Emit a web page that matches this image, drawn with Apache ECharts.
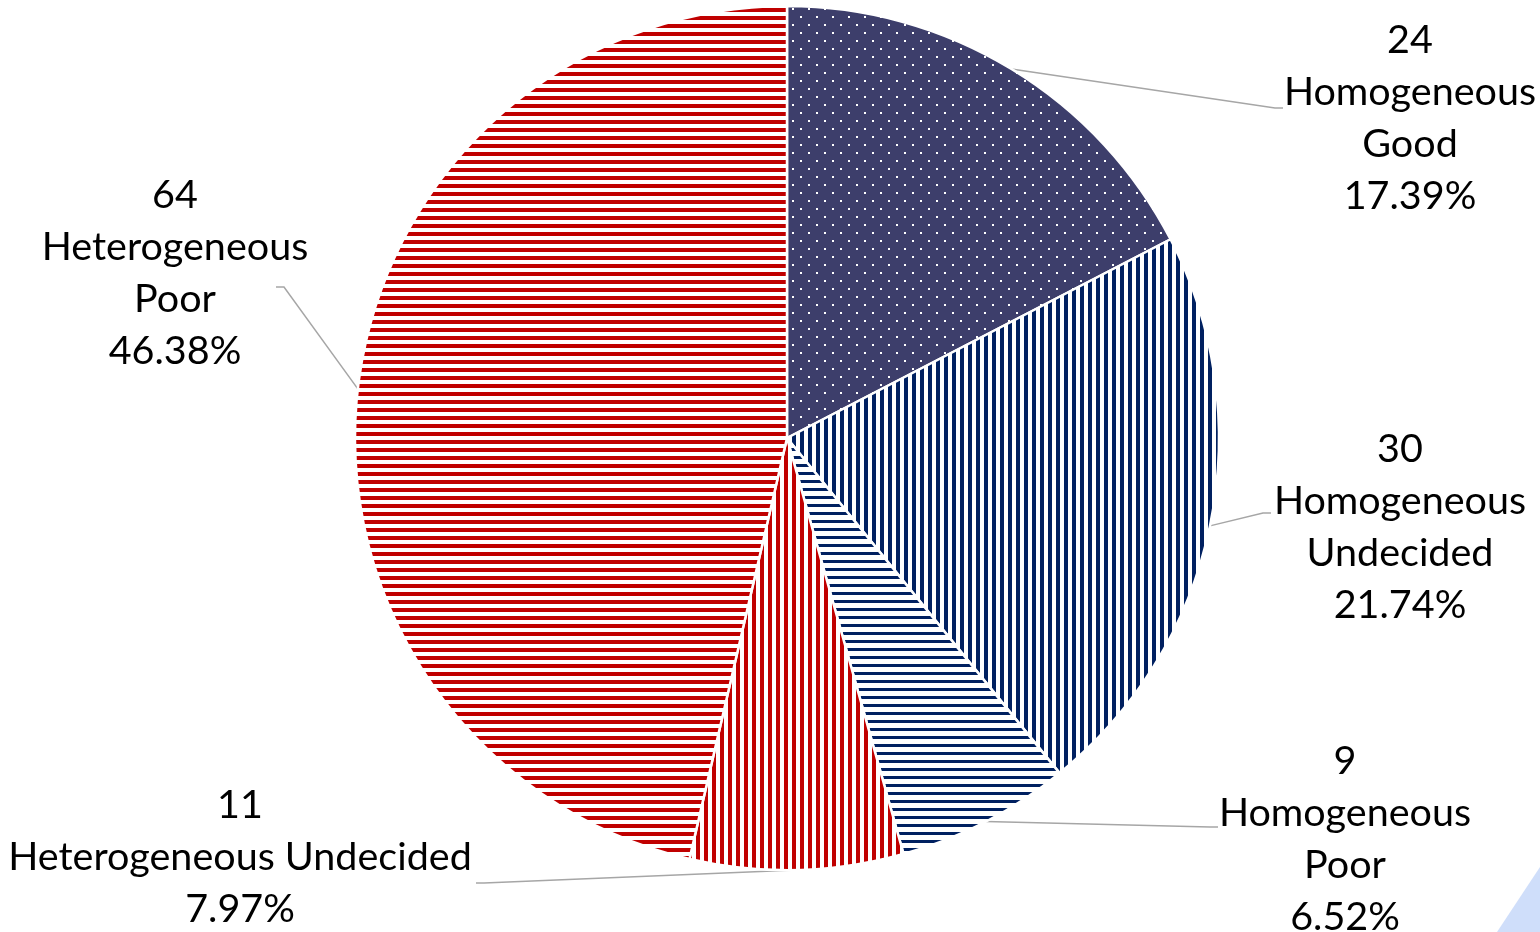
<!DOCTYPE html>
<html>
<head>
<meta charset="utf-8">
<script src="https://cdn.jsdelivr.net/npm/echarts@6/dist/echarts.min.js"></script>
<style>
  html, body { margin: 0; padding: 0; background: #ffffff; }
  #chart { width: 1540px; height: 932px; }
</style>
</head>
<body>
<div id="chart"></div>
<script>
// Group / rating categories and their counts
const categories = [
  'Homogeneous\nGood',
  'Homogeneous\nUndecided',
  'Homogeneous\nPoor',
  'Heterogeneous Undecided',
  'Heterogeneous\nPoor'
];
const counts = [24, 30, 9, 11, 64];

// Fill pattern per slice
const fills = ['dots', 'navyVertical', 'navyHorizontal', 'redVertical', 'redHorizontal'];

// Label block centres and leader-line ends (pixels)
const labelCenters = [[1410, 118], [1400, 527], [1345, 839], [240, 857], [175, 273]];
const lineEnds = [[1283, 108], [1271, 513], [1218, 827], [476, 883], [276, 287]];

const NAVY_DOTS = '#3d3e6b';
const NAVY = '#002060';
const RED = '#c00000';

function tile(w, h, draw) {
  const c = document.createElement('canvas');
  c.width = w; c.height = h;
  const ctx = c.getContext('2d');
  ctx.fillStyle = '#ffffff';
  ctx.fillRect(0, 0, w, h);
  draw(ctx);
  return { image: c, repeat: 'repeat' };
}

const patterns = {
  dots: tile(16, 16, ctx => {
    ctx.fillStyle = NAVY_DOTS;
    ctx.fillRect(0, 0, 16, 16);
    ctx.fillStyle = '#ffffff';
    ctx.fillRect(0, 0, 2, 2);
    ctx.fillRect(8, 8, 2, 2);
  }),
  navyVertical: tile(8, 8, ctx => {
    ctx.fillStyle = NAVY;
    ctx.fillRect(0, 0, 4, 8);
  }),
  navyHorizontal: tile(8, 8, ctx => {
    ctx.fillStyle = NAVY;
    ctx.fillRect(0, 0, 8, 3);
  }),
  redVertical: tile(8, 8, ctx => {
    ctx.fillStyle = RED;
    ctx.fillRect(0, 0, 4, 8);
  }),
  redHorizontal: tile(8, 8, ctx => {
    ctx.fillStyle = RED;
    ctx.fillRect(0, 0, 8, 4);
  })
};

const chart = echarts.init(document.getElementById('chart'), null, { renderer: 'canvas' });

const option = {
  animation: false,
  backgroundColor: '#ffffff',
  graphic: [{
    type: 'polygon',
    shape: { points: [[1497, 932], [1540, 867], [1540, 932]] },
    style: { fill: '#cfdefa' },
    silent: true
  }],
  series: [{
    type: 'pie',
    center: [787, 438],
    radius: 432,
    startAngle: 90,
    clockwise: true,
    percentPrecision: 2,
    avoidLabelOverlap: false,
    itemStyle: { borderColor: '#ffffff', borderWidth: 2.5 },
    label: {
      show: true,
      position: 'outer',
      formatter: '{c}\n{b}\n{d}%',
      fontFamily: 'Lato',
      fontSize: 39.5,
      lineHeight: 52,
      color: '#000000'
    },
    labelLine: {
      show: true,
      lineStyle: { color: '#a6a6a6', width: 1.5 }
    },
    labelLayout: function (p) {
      const i = p.dataIndex;
      const c = labelCenters[i];
      const end = lineEnds[i];
      const start = p.labelLinePoints ? p.labelLinePoints[0] : end;
      const rightSide = end[0] > start[0];
      const elbow = [end[0] + (rightSide ? -8 : 8), end[1]];
      return {
        x: c[0],
        y: c[1],
        align: 'center',
        verticalAlign: 'middle',
        labelLinePoints: [start, elbow, end]
      };
    },
    emphasis: { disabled: true },
    data: categories.map((name, i) => ({
      name: name,
      value: counts[i],
      itemStyle: { color: patterns[fills[i]] }
    }))
  }]
};

chart.setOption(option);
</script>
</body>
</html>
